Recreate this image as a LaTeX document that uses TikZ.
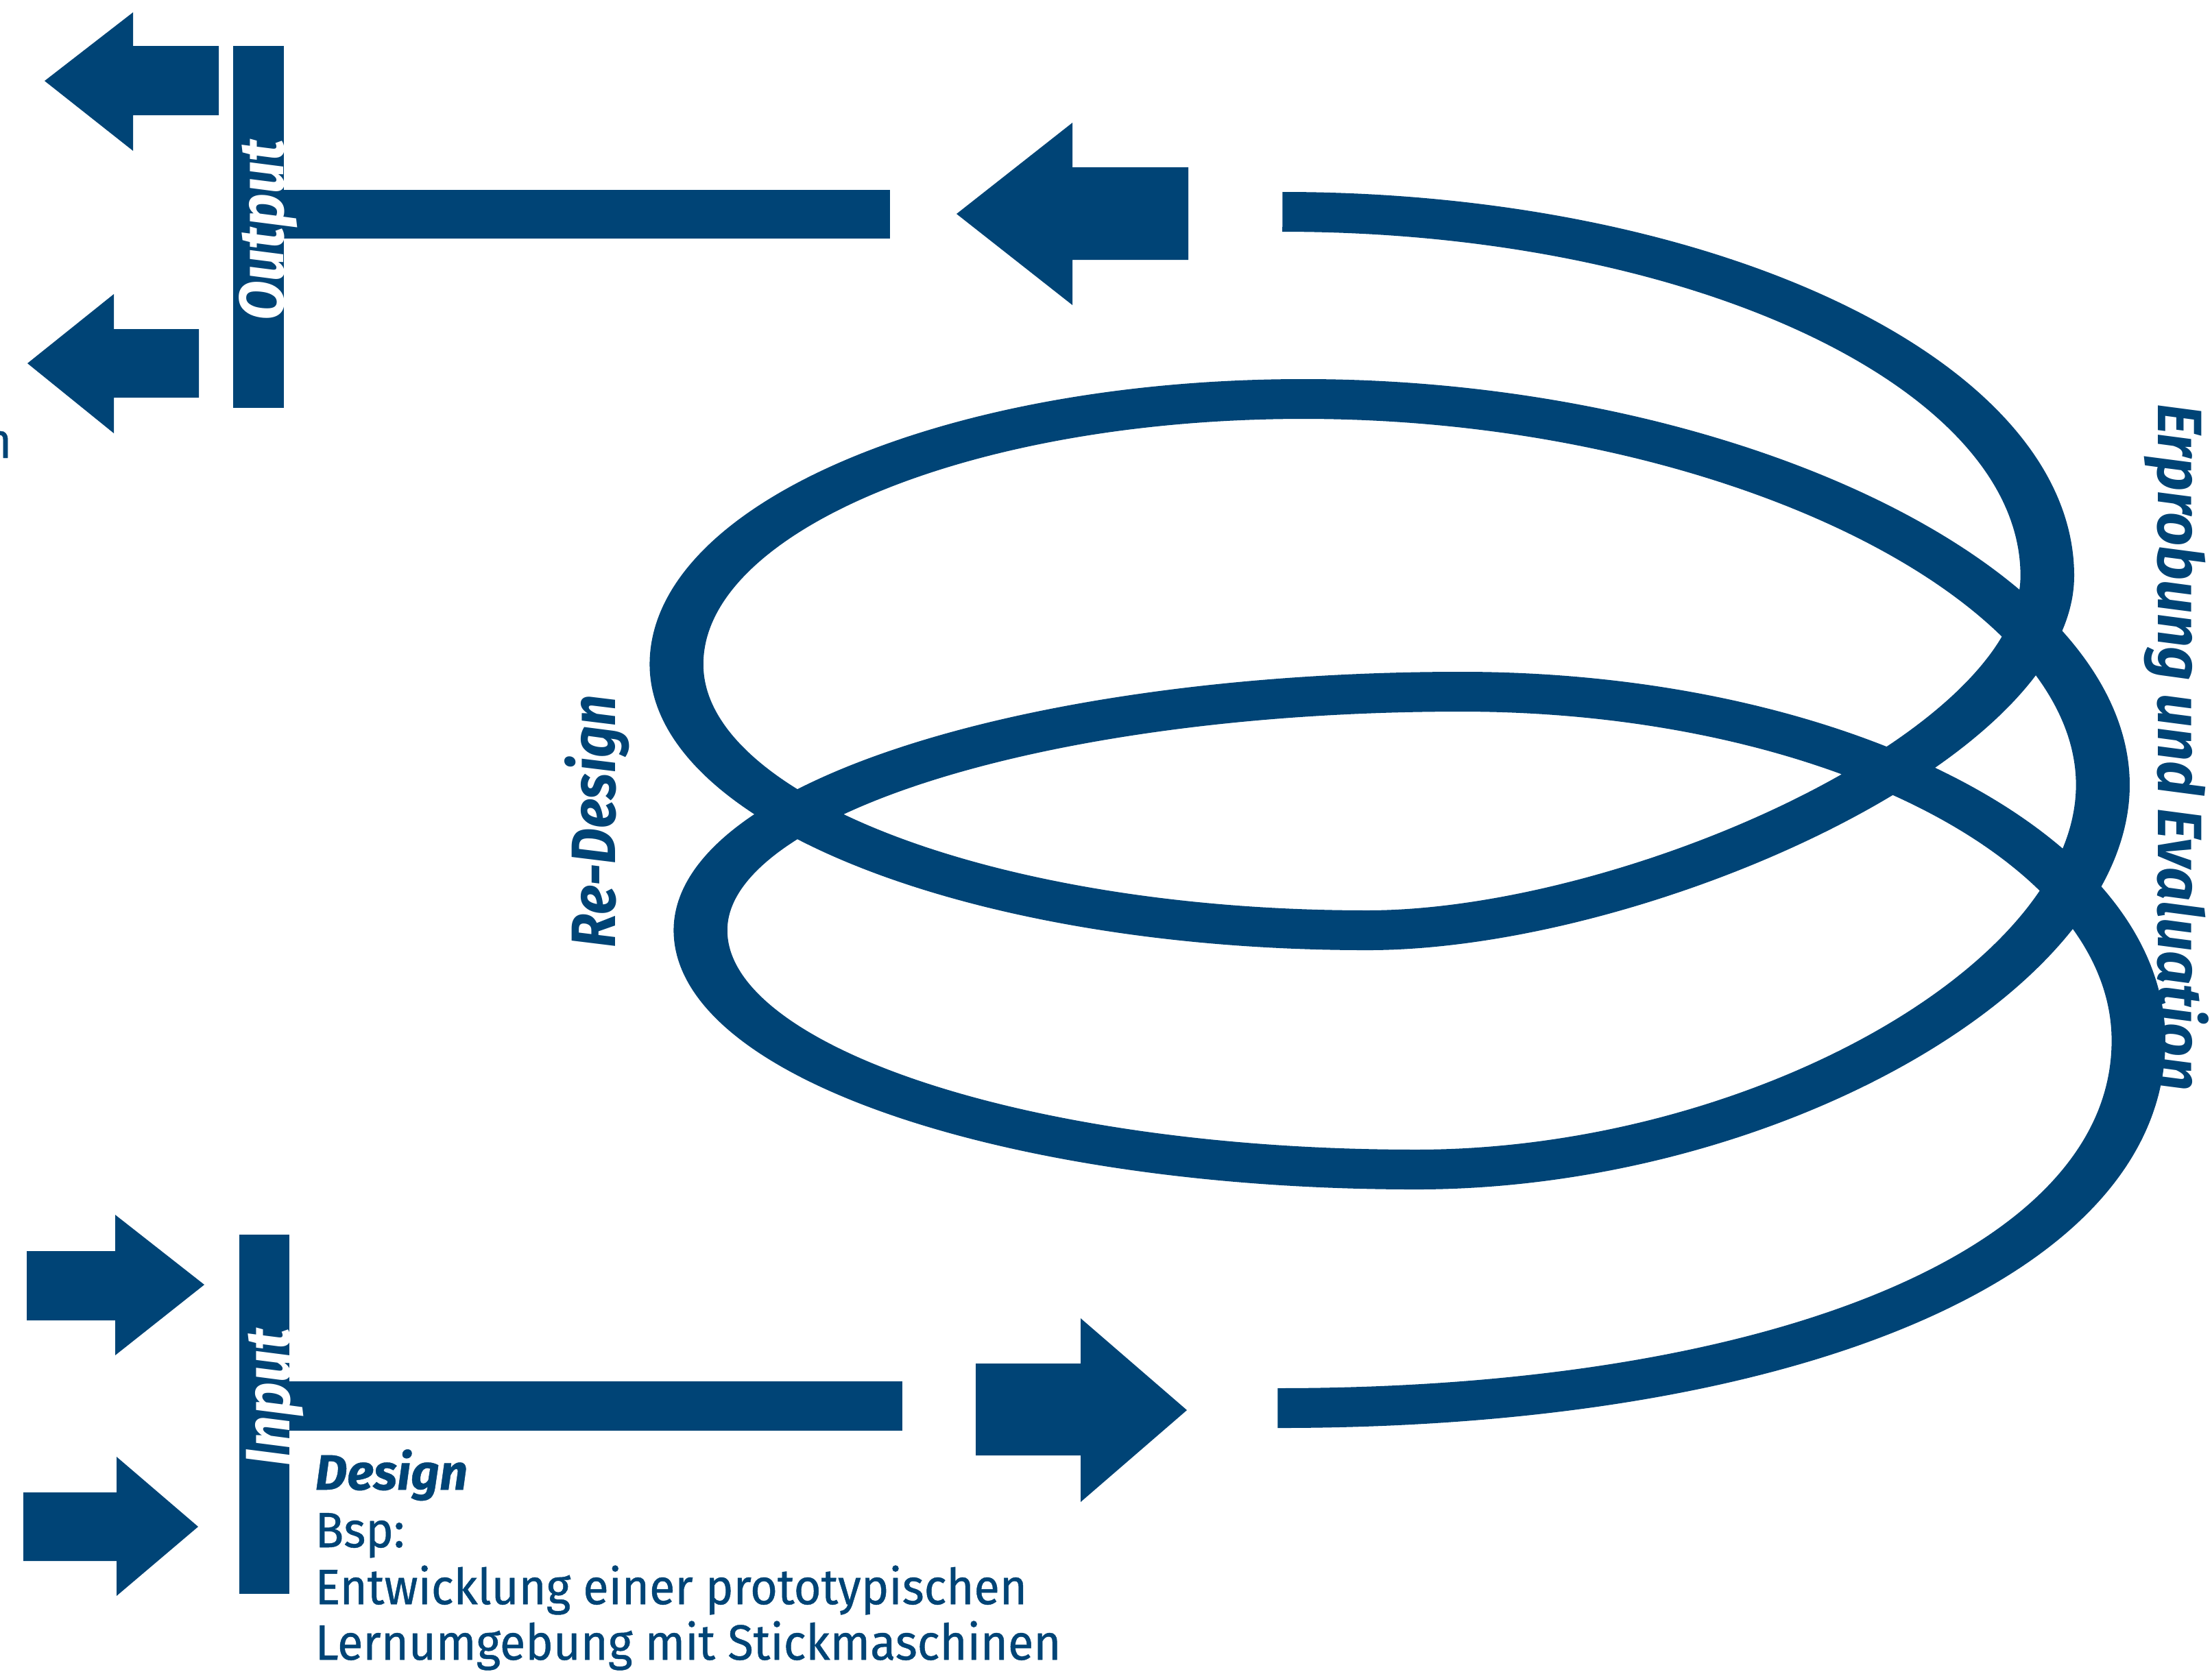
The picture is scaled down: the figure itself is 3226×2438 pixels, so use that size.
\documentclass[tikz,border=0pt]{standalone}
\usepackage{fontspec}
\setmainfont{Fira Sans}
\newfontfamily\headfont[FakeStretch=0.92]{Fira Sans}
\newfontfamily\bodyfont[FakeStretch=0.945, FakeBold=0.6]{Fira Sans}
\definecolor{deepblue}{RGB}{0,68,118}

\begin{document}
\begin{tikzpicture}[x = 0.01cm, y = -0.01cm,
	block/.style = {fill = deepblue},
	head/.style = {inner sep = 0, anchor = base, font = \headfont\bfseries\itshape\fontsize{26pt}{30pt}\selectfont},
	body/.style = {inner sep = 0, anchor = base west, text = deepblue, font = \bodyfont\fontsize{20.6pt}{24pt}\selectfont}]

	% Page frame
	
	\useasboundingbox (0, 0) rectangle (3226, 2438);
	
	% Output side: two arrows, bar and big arrow
	
	\fill [block] (65, 118) -- (194, 18) -- (194, 67) -- (319, 67) -- (319, 168) -- (194, 168) -- (194, 220) -- cycle;
	\fill [block] (40, 530) -- (166, 429) -- (166, 480) -- (290, 480) -- (290, 580) -- (166, 580) -- (166, 632) -- cycle;
	
	\fill [block] (340, 67) rectangle (414, 595);
	\fill [block] (414, 277) rectangle (1298, 348);
	
	\fill [block] (1395, 312) -- (1564, 179) -- (1564, 244) -- (1733, 244) -- (1733, 379) -- (1564, 379) -- (1564, 445) -- cycle;
	
	\node [head, text = white, rotate = 90] (output) at (413, 336) {Output};
	
	% Input side: two arrows, bar and big arrow
	
	\fill [block] (298, 1874) -- (168, 1772) -- (168, 1825) -- (39, 1825) -- (39, 1926) -- (168, 1926) -- (168, 1977) -- cycle;
	\fill [block] (289, 2227) -- (170, 2125) -- (170, 2177) -- (34, 2177) -- (34, 2277) -- (170, 2277) -- (170, 2328) -- cycle;
	
	\fill [block] (349, 1801) rectangle (422, 2325);
	\fill [block] (422, 2015) rectangle (1316, 2087);
	
	\fill [block] (1731, 2057) -- (1576, 1923) -- (1576, 1989) -- (1423, 1989) -- (1423, 2123) -- (1576, 2123) -- (1576, 2191) -- cycle;
	
	\node [head, text = white, rotate = 90] (input) at (422, 2038) {Input};
	
	% Spiral (stroke drawn wider sideways)
	
	\begin{scope}[x = 0.0074074cm, transform canvas = {xscale = 1.35}]
		\draw [deepblue, line width = 0.58cm]
			(1871, 309)
			.. controls (2487, 309) and (2987, 547) .. (2987, 840)
			.. controls (2987, 1090) and (2380, 1357) .. (1995, 1357)
			.. controls (1438, 1357) and (987, 1183) .. (987, 969)
			.. controls (987, 755) and (1397, 582) .. (1902, 582)
			.. controls (2520, 582) and (3068, 850) .. (3068, 1145)
			.. controls (3068, 1425) and (2567, 1706) .. (2066, 1706)
			.. controls (1489, 1706) and (1022, 1550) .. (1022, 1357)
			.. controls (1022, 1165) and (1519, 1009) .. (2132, 1009)
			.. controls (2674, 1009) and (3120, 1236) .. (3120, 1518)
			.. controls (3120, 1838) and (2614, 2054) .. (1864, 2054);
	\end{scope}
	
	% Phase labels
	
	\node [head, text = deepblue, rotate = 90] (redesign) at (897, 1198) {\addfontfeature{FakeStretch=0.88}Re-Design};
	\node [head, text = deepblue, rotate = -90] (evaluation) at (3147, 1090) {\addfontfeature{FakeStretch=0.94}Erprobung und Evaluation};
	
	% Example text below the input
	
	\node [body, font = \bodyfont\bfseries\itshape\fontsize{20.6pt}{24pt}\selectfont] (design) at (459, 2173) {\addfontfeature{FakeStretch=1}Design};
	\node [body] (bsp) at (459, 2257) {Bsp:};
	\node [body] (line1) at (459, 2340) {Entwicklung einer prototypischen};
	\node [body] (line2) at (459, 2421) {Lernumgebung mit Stickmaschinen};
	
	% Cut-off letter at the left edge
	
	\node [body, anchor = base east] (cut) at (18, 668) {n};
	
\end{tikzpicture}
\end{document}
